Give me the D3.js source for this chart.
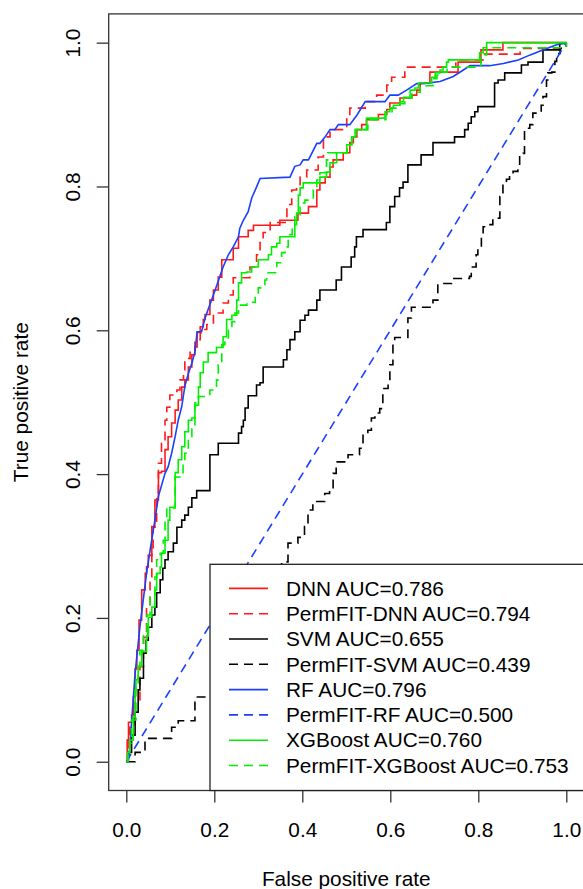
<!DOCTYPE html>
<html><head><meta charset="utf-8">
<script src="https://cdn.jsdelivr.net/npm/d3@7/dist/d3.min.js"></script>
<style>
html,body{margin:0;padding:0;background:#fff;}
svg{display:block;font-family:"Liberation Sans",Arial,sans-serif;}
</style></head>
<body>
<svg id="chart" width="583" height="889"></svg>
<script>
// ---------- DATA ----------
const seriesNames = ["DNN","PermFIT-DNN","SVM","PermFIT-SVM","RF","PermFIT-RF","XGBoost","PermFIT-XGBoost"];
const aucValues = [0.786,0.794,0.655,0.439,0.796,0.500,0.760,0.753];
const xTicks = [0,0.2,0.4,0.6,0.8,1.0];
const yTicks = [0,0.2,0.4,0.6,0.8,1.0];
const xTitle = "False positive rate";
const yTitle = "True positive rate";

const rocDNN = [[0,0],[0.002,0.030],[0.005,0.055],[0.012,0.065],[0.016,0.090],[0.020,0.129],[0.024,0.155],[0.029,0.197],[0.035,0.239],[0.043,0.262],[0.046,0.271],[0.050,0.287],[0.058,0.327],[0.065,0.364],[0.073,0.402],[0.080,0.404],[0.088,0.434],[0.095,0.452],[0.103,0.471],[0.111,0.489],[0.118,0.503],[0.126,0.521],[0.133,0.531],[0.141,0.549],[0.149,0.566],[0.156,0.577],[0.161,0.597],[0.168,0.605],[0.175,0.615],[0.179,0.622],[0.190,0.642],[0.198,0.656],[0.209,0.674],[0.217,0.698],[0.243,0.714],[0.255,0.730],[0.277,0.739],[0.289,0.746],[0.349,0.753],[0.390,0.763],[0.414,0.772],[0.433,0.795],[0.440,0.805],[0.452,0.813],[0.463,0.827],[0.470,0.837],[0.493,0.847],[0.508,0.861],[0.516,0.869],[0.524,0.879],[0.535,0.886],[0.546,0.893],[0.573,0.900],[0.592,0.907],[0.599,0.916],[0.622,0.923],[0.649,0.927],[0.660,0.934],[0.668,0.944],[0.690,0.959],[0.754,0.973],[0.806,0.990],[0.856,1.0],[1,1]];

const rocPermDNN = [[0,0],[0.004,0.030],[0.008,0.048],[0.020,0.086],[0.031,0.132],[0.039,0.173],[0.046,0.215],[0.054,0.257],[0.058,0.294],[0.061,0.326],[0.069,0.374],[0.073,0.415],[0.080,0.443],[0.088,0.475],[0.092,0.493],[0.099,0.510],[0.115,0.517],[0.122,0.531],[0.130,0.545],[0.133,0.561],[0.145,0.573],[0.156,0.587],[0.168,0.596],[0.175,0.601],[0.183,0.608],[0.198,0.624],[0.220,0.638],[0.232,0.649],[0.243,0.673],[0.281,0.688],[0.296,0.705],[0.304,0.722],[0.311,0.736],[0.327,0.750],[0.365,0.775],[0.376,0.795],[0.387,0.799],[0.395,0.813],[0.410,0.823],[0.436,0.841],[0.448,0.869],[0.463,0.879],[0.501,0.895],[0.508,0.909],[0.543,0.918],[0.569,0.927],[0.592,0.941],[0.603,0.952],[0.633,0.966],[0.749,0.976],[0.811,0.984],[0.895,0.992],[1,1]];

const rocSVM = [[0,0],[0.004,0.013],[0.012,0.037],[0.020,0.069],[0.027,0.100],[0.031,0.116],[0.039,0.151],[0.045,0.169],[0.050,0.187],[0.058,0.204],[0.065,0.215],[0.069,0.235],[0.077,0.253],[0.083,0.269],[0.088,0.281],[0.095,0.292],[0.107,0.304],[0.115,0.326],[0.126,0.336],[0.133,0.343],[0.141,0.354],[0.149,0.367],[0.160,0.377],[0.190,0.427],[0.209,0.443],[0.255,0.457],[0.262,0.466],[0.266,0.475],[0.270,0.492],[0.277,0.509],[0.296,0.524],[0.304,0.527],[0.311,0.549],[0.357,0.559],[0.365,0.573],[0.372,0.587],[0.383,0.598],[0.395,0.614],[0.406,0.621],[0.414,0.628],[0.433,0.642],[0.440,0.656],[0.477,0.670],[0.489,0.688],[0.511,0.702],[0.519,0.716],[0.523,0.730],[0.538,0.740],[0.591,0.750],[0.599,0.772],[0.610,0.786],[0.621,0.798],[0.629,0.806],[0.640,0.830],[0.670,0.844],[0.697,0.861],[0.746,0.869],[0.769,0.879],[0.777,0.888],[0.784,0.897],[0.792,0.904],[0.799,0.911],[0.837,0.944],[0.845,0.948],[0.860,0.958],[0.898,0.969],[0.913,0.973],[0.947,0.990],[0.985,0.999],[1,1]];

const rocPermSVM = [[0,0],[0.020,0.013],[0.0425,0.0325],[0.103,0.048],[0.118,0.057],[0.156,0.090],[0.353,0.278],[0.3675,0.304],[0.390,0.312],[0.405,0.327],[0.413,0.350],[0.424,0.362],[0.451,0.373],[0.462,0.378],[0.470,0.401],[0.477,0.417],[0.504,0.427],[0.530,0.436],[0.538,0.454],[0.549,0.461],[0.557,0.478],[0.565,0.485],[0.576,0.491],[0.583,0.519],[0.595,0.526],[0.599,0.552],[0.606,0.582],[0.610,0.590],[0.640,0.617],[0.648,0.632],[0.697,0.642],[0.708,0.663],[0.720,0.665],[0.739,0.672],[0.780,0.675],[0.784,0.688],[0.795,0.705],[0.799,0.716],[0.807,0.733],[0.811,0.744],[0.818,0.747],[0.833,0.756],[0.849,0.786],[0.856,0.803],[0.864,0.810],[0.871,0.818],[0.879,0.821],[0.890,0.828],[0.894,0.844],[0.902,0.846],[0.905,0.881],[0.917,0.886],[0.924,0.902],[0.935,0.904],[0.943,0.913],[0.947,0.925],[0.955,0.948],[0.958,0.958],[0.967,0.959],[0.974,0.974],[0.978,0.985],[0.986,0.992],[1,1]];

const rocRF = [[0,0],[0.005,0.002],[0.008,0.021],[0.020,0.123],[0.031,0.188],[0.046,0.262],[0.054,0.294],[0.065,0.336],[0.073,0.369],[0.088,0.401],[0.095,0.410],[0.103,0.429],[0.111,0.452],[0.118,0.475],[0.126,0.494],[0.133,0.522],[0.141,0.540],[0.149,0.554],[0.156,0.570],[0.161,0.598],[0.171,0.598],[0.179,0.617],[0.202,0.656],[0.220,0.688],[0.232,0.705],[0.243,0.716],[0.255,0.730],[0.258,0.742],[0.266,0.753],[0.277,0.765],[0.285,0.784],[0.293,0.795],[0.304,0.811],[0.372,0.813],[0.383,0.828],[0.395,0.830],[0.402,0.837],[0.414,0.837],[0.433,0.860],[0.440,0.860],[0.452,0.869],[0.463,0.879],[0.474,0.879],[0.482,0.886],[0.508,0.886],[0.524,0.899],[0.543,0.918],[0.588,0.918],[0.599,0.927],[0.618,0.927],[0.637,0.934],[0.660,0.943],[0.675,0.943],[0.713,0.946],[0.743,0.953],[0.766,0.962],[0.781,0.968],[0.826,0.968],[0.857,0.971],[0.891,0.976],[0.918,0.983],[0.948,0.990],[0.978,0.997],[1,1]];

const rocPermRF = [[0,0],[1,1]];

const rocXGB = [[0,0],[0.003,0.013],[0.008,0.030],[0.016,0.062],[0.020,0.100],[0.022,0.114],[0.027,0.133],[0.035,0.153],[0.046,0.175],[0.050,0.201],[0.058,0.215],[0.065,0.239],[0.069,0.262],[0.077,0.271],[0.080,0.290],[0.088,0.308],[0.095,0.336],[0.099,0.354],[0.111,0.402],[0.118,0.420],[0.126,0.438],[0.133,0.459],[0.141,0.475],[0.149,0.478],[0.156,0.496],[0.164,0.521],[0.168,0.541],[0.175,0.556],[0.186,0.569],[0.205,0.576],[0.220,0.591],[0.228,0.615],[0.240,0.621],[0.251,0.642],[0.255,0.666],[0.262,0.680],[0.274,0.681],[0.285,0.688],[0.300,0.698],[0.323,0.705],[0.330,0.716],[0.342,0.721],[0.349,0.730],[0.383,0.747],[0.387,0.763],[0.391,0.788],[0.395,0.798],[0.402,0.805],[0.440,0.813],[0.455,0.820],[0.463,0.833],[0.478,0.847],[0.501,0.858],[0.512,0.869],[0.520,0.879],[0.546,0.895],[0.588,0.904],[0.599,0.909],[0.607,0.913],[0.622,0.918],[0.630,0.924],[0.645,0.934],[0.656,0.937],[0.664,0.944],[0.694,0.952],[0.702,0.958],[0.713,0.962],[0.720,0.966],[0.728,0.973],[0.732,0.976],[0.803,0.986],[0.811,0.993],[0.819,1.0],[1,1]];

const rocPermXGB = [[0,0],[0.004,0.013],[0.008,0.026],[0.012,0.058],[0.022,0.104],[0.027,0.132],[0.031,0.155],[0.039,0.179],[0.047,0.204],[0.054,0.229],[0.065,0.257],[0.069,0.281],[0.077,0.290],[0.084,0.308],[0.088,0.336],[0.092,0.353],[0.111,0.396],[0.122,0.402],[0.129,0.417],[0.133,0.429],[0.141,0.452],[0.149,0.466],[0.156,0.499],[0.164,0.508],[0.190,0.517],[0.205,0.531],[0.209,0.552],[0.217,0.580],[0.224,0.587],[0.232,0.600],[0.240,0.612],[0.247,0.624],[0.255,0.635],[0.274,0.639],[0.293,0.652],[0.300,0.659],[0.315,0.670],[0.319,0.680],[0.342,0.694],[0.353,0.708],[0.361,0.716],[0.368,0.733],[0.377,0.747],[0.383,0.758],[0.395,0.777],[0.406,0.781],[0.418,0.784],[0.425,0.795],[0.433,0.809],[0.440,0.819],[0.452,0.827],[0.455,0.837],[0.458,0.847],[0.502,0.858],[0.513,0.869],[0.522,0.879],[0.549,0.893],[0.590,0.901],[0.604,0.909],[0.622,0.915],[0.633,0.923],[0.649,0.931],[0.668,0.940],[0.697,0.950],[0.706,0.955],[0.718,0.959],[0.729,0.966],[0.806,0.983],[0.819,0.993],[1,1]];

const curves = [rocDNN, rocPermDNN, rocSVM, rocPermSVM, rocRF, rocPermRF, rocXGB, rocPermXGB];

// ---------- STYLE ----------
const colors = ["#ff1a1a","#ff1a1a","#000000","#000000","#1a40ff","#1a40ff","#00f000","#00f000"];
const dashed = [false,true,false,true,false,true,false,true];
const stepped = [true,true,true,true,false,false,true,true];
const FS = 20.8;

const svg = d3.select("#chart");
const x = d3.scaleLinear().domain([-0.04,1.04]).range([108.7,583.9]);
const y = d3.scaleLinear().domain([-0.04,1.04]).range([790.5,13.9]);

// curves
curves.forEach((c,i)=>{
  const line = d3.line().x(d=>x(d[0])).y(d=>y(d[1]))
    .curve(stepped[i] ? d3.curveStepAfter : d3.curveLinear);
  svg.append("path").datum(c)
    .attr("d", line)
    .attr("fill","none")
    .attr("stroke", colors[i])
    .attr("stroke-width", 1.6)
    .attr("stroke-dasharray", dashed[i] ? "9,6" : null);
});

// frame
svg.append("rect")
  .attr("x", x(-0.04)).attr("y", y(1.04))
  .attr("width", x(1.04)-x(-0.04)).attr("height", y(-0.04)-y(1.04))
  .attr("fill","none").attr("stroke","#333").attr("stroke-width",1.3);

// axes
const fmt = d3.format(".1f");
const xAxis = svg.append("g").attr("transform",`translate(0,${y(-0.04)})`)
  .call(d3.axisBottom(x).tickValues(xTicks).tickFormat(fmt).tickSize(12));
xAxis.select(".domain").remove();
xAxis.selectAll("line").attr("stroke","#333").attr("stroke-width",1.3);
xAxis.selectAll("text").attr("y",46.5).attr("dy",null)
  .attr("font-size",FS).attr("font-family","Liberation Sans, Arial, sans-serif").attr("fill","#000");

const yAxis = svg.append("g").attr("transform",`translate(${x(-0.04)},0)`)
  .call(d3.axisLeft(y).tickValues(yTicks).tickFormat(fmt).tickSize(12));
yAxis.select(".domain").remove();
yAxis.selectAll("line").attr("stroke","#333").attr("stroke-width",1.3);
yAxis.selectAll("text").attr("x",null).attr("dy",null)
  .attr("transform","translate(-28.7,0) rotate(-90)")
  .attr("text-anchor","middle")
  .attr("font-size",FS).attr("font-family","Liberation Sans, Arial, sans-serif").attr("fill","#000");

// titles
svg.append("text").attr("x",(x(-0.04)+x(1.04))/2).attr("y",886)
  .attr("text-anchor","middle").attr("font-size",FS).text(xTitle);
svg.append("text").attr("transform",`translate(28,${(y(-0.04)+y(1.04))/2}) rotate(-90)`)
  .attr("text-anchor","middle").attr("font-size",FS).text(yTitle);

// legend
const lg = svg.append("g");
lg.append("rect").attr("x",210).attr("y",564.3)
  .attr("width",x(1.04)-210).attr("height",y(-0.04)-564.3)
  .attr("fill","#fff").attr("stroke","#222").attr("stroke-width",1.3);
seriesNames.forEach((n,i)=>{
  const cy = 588.4 + i*25.3;
  lg.append("line").attr("x1",229).attr("x2",268).attr("y1",cy).attr("y2",cy)
    .attr("stroke",colors[i]).attr("stroke-width",1.6)
    .attr("stroke-dasharray", dashed[i] ? "9,6" : null);
  lg.append("text").attr("x",286).attr("y",cy).attr("dy","0.35em")
    .attr("font-size",FS).text(`${n} AUC=${d3.format(".3f")(aucValues[i])}`);
});
</script>
</body></html>
